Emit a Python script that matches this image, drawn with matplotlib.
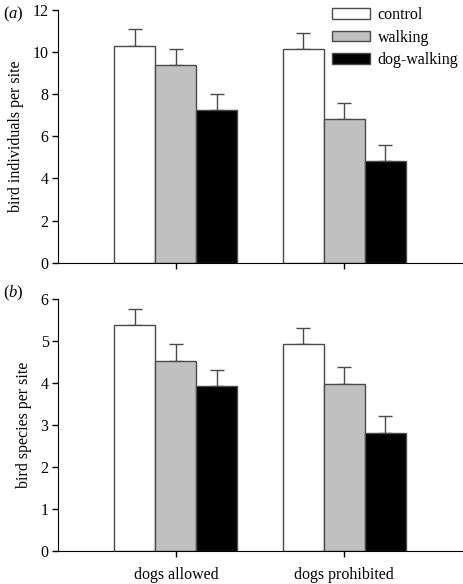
import matplotlib
matplotlib.use("Agg")
import matplotlib.pyplot as plt
import numpy as np

plt.rcParams['font.family'] = ['Liberation Serif', 'DejaVu Serif']
plt.rcParams['mathtext.fontset'] = 'custom'
plt.rcParams['mathtext.rm'] = 'Liberation Serif'
plt.rcParams['mathtext.it'] = 'Liberation Serif:italic'

groups = ["dogs allowed", "dogs prohibited"]
treatments = ["control", "walking", "dog-walking"]
colors = ["white", "#c0c0c0", "black"]

individuals = {"control": [10.28, 10.12], "walking": [9.38, 6.80], "dog-walking": [7.24, 4.82]}
individuals_err = {"control": [0.79, 0.76], "walking": [0.77, 0.76], "dog-walking": [0.75, 0.75]}
species = {"control": [5.38, 4.93], "walking": [4.52, 3.98], "dog-walking": [3.92, 2.81]}
species_err = {"control": [0.38, 0.37], "walking": [0.40, 0.39], "dog-walking": [0.38, 0.40]}

fig = plt.figure(figsize=(4.64, 5.84), dpi=100)
ax1 = fig.add_axes([0.1257, 0.550, 0.870, 0.4334])
ax2 = fig.add_axes([0.1257, 0.0570, 0.870, 0.431])

x = np.arange(len(groups))
w = 0.244

def draw(ax, vals, errs, ylim, yticks, ylabel):
    for i, t in enumerate(treatments):
        ax.bar(x + (i - 1) * w, vals[t], w, color=colors[i], edgecolor="#4a4a4a",
               linewidth=1.0, label=t, zorder=2)
        ax.errorbar(x + (i - 1) * w, vals[t], yerr=[np.zeros(len(groups)), errs[t]],
                    fmt='none', ecolor="#4a4a4a", elinewidth=1.0, capsize=5, capthick=1.0, zorder=1)
    ax.set_xlim(-0.698, 1.70)
    ax.set_ylim(*ylim)
    ax.set_yticks(yticks)
    ax.set_xticks(x)
    ax.spines['top'].set_visible(False)
    ax.spines['right'].set_visible(False)
    ax.tick_params(axis='y', direction='out', length=4, width=1, labelsize=11.5, pad=3)
    ax.tick_params(axis='x', direction='out', length=4, width=1, labelsize=11.5, pad=8)
    ax.set_ylabel(ylabel, fontsize=11.5, labelpad=6)

draw(ax1, individuals, individuals_err, (0, 12), [0, 2, 4, 6, 8, 10, 12], "bird individuals per site")
ax1.set_xticklabels([])
draw(ax2, species, species_err, (0, 6), [0, 1, 2, 3, 4, 5, 6], "bird species per site")
ax2.set_xticklabels(groups)

ax1.legend(loc='upper left', bbox_to_anchor=(0.678, 1.01), frameon=False, fontsize=11.5,
           handlelength=2.4, handleheight=0.65, handletextpad=0.45, labelspacing=0.4,
           borderpad=0, borderaxespad=0)

fig.text(0.006, 0.975, r'$\mathrm{(}\mathit{a}\mathrm{)}$', fontsize=12, va='center', ha='left')
fig.text(0.006, 0.498, r'$\mathrm{(}\mathit{b}\mathrm{)}$', fontsize=12, va='center', ha='left')

fig.savefig("out.png", dpi=100)
